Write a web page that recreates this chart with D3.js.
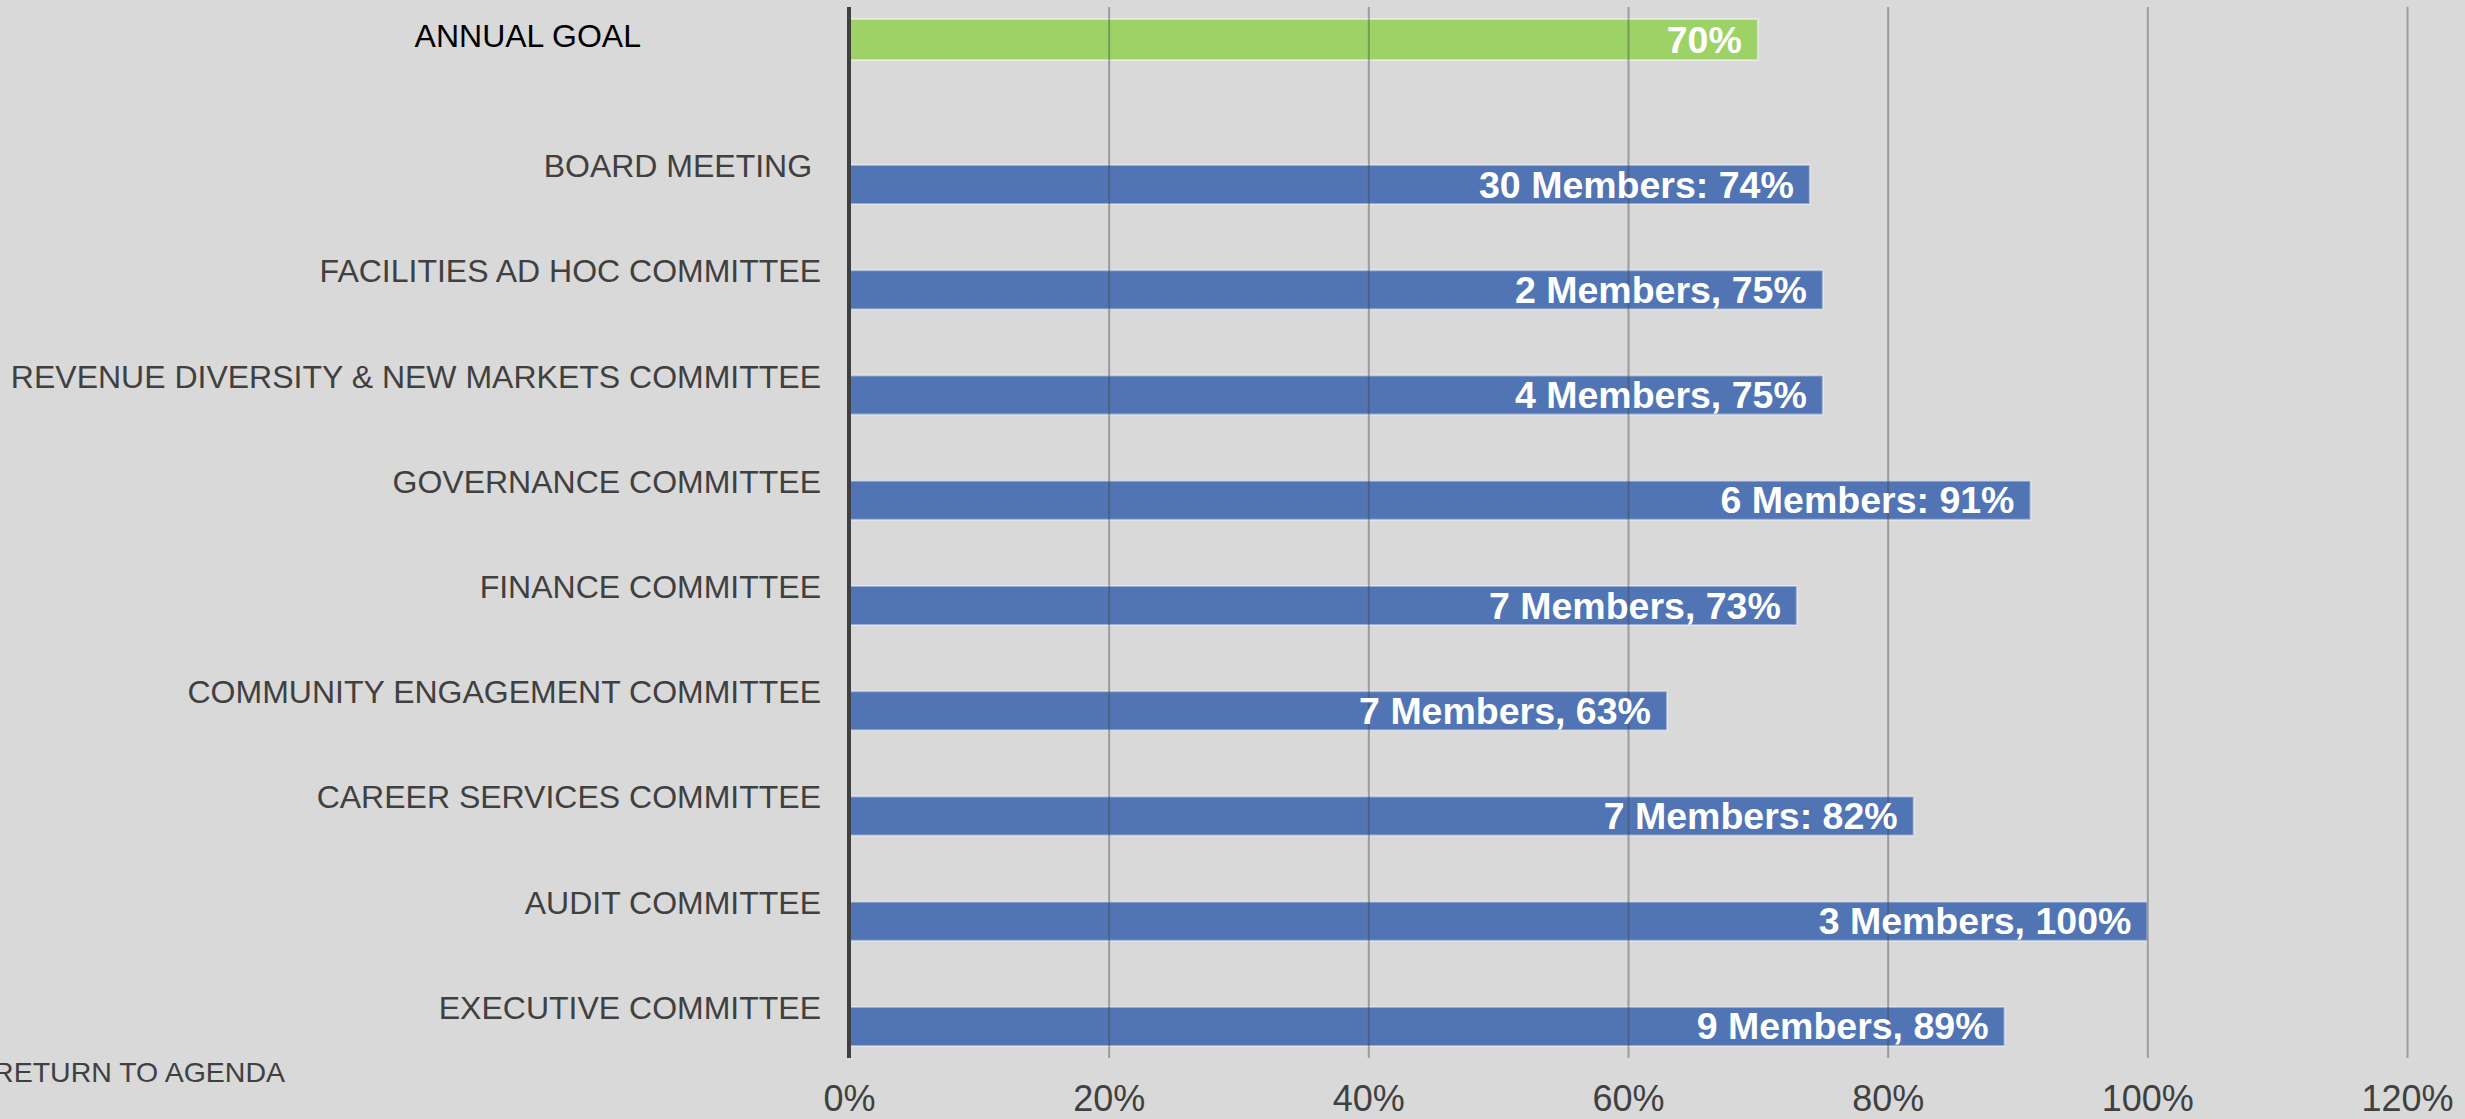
<!DOCTYPE html>
<html lang="en">
<head>
    <meta charset="utf-8">
    <title>Meeting attendance</title>
    <script src="https://d3js.org/d3.v7.min.js"></script>
    <style>
        body{margin:0;background:#d9d9d9;}
        svg{display:block;font-family:"Liberation Sans",Arial,sans-serif;}
    </style>
</head>

<body>
<svg width="2465" height="1119"></svg>
<script>
    // data
    var goalCategory = ["ANNUAL GOAL"];
    var goalValue = [0.70];
    var goalLabel = ["70%"];

    var categories = ["BOARD MEETING ", "FACILITIES AD HOC COMMITTEE", "REVENUE DIVERSITY & NEW MARKETS COMMITTEE",
        "GOVERNANCE COMMITTEE", "FINANCE COMMITTEE", "COMMUNITY ENGAGEMENT COMMITTEE",
        "CAREER SERVICES COMMITTEE", "AUDIT COMMITTEE", "EXECUTIVE COMMITTEE"];
    var values = [0.74, 0.75, 0.75, 0.91, 0.73, 0.63, 0.82, 1.00, 0.89];
    var barLabels = ["30 Members: 74%", "2 Members, 75%", "4 Members, 75%", "6 Members: 91%",
        "7 Members, 73%", "7 Members, 63%", "7 Members: 82%", "3 Members, 100%", "9 Members, 89%"];
    var ticks = [0, 0.2, 0.4, 0.6, 0.8, 1.0, 1.2];

    var svg = d3.select("svg");
    var width = +svg.attr("width");
    var height = +svg.attr("height");

    var plotTop = 7, plotBottom = 1058;

    svg.append("rect")
        .attr("width", width)
        .attr("height", height)
        .attr("fill", "#d9d9d9");

    var x = d3.scaleLinear()
        .domain([0, 1.2])
        .range([849, 2407]);

    // annual goal sits in its own little band at the top
    var yGoal = d3.scaleBand()
        .domain(goalCategory)
        .range([19, 60]);

    // committees: label at band centre, bar in the lower half (2-series cluster)
    var y = d3.scaleBand()
        .domain(categories)
        .range([112.4, 1059.6]);
    var barH = 39;

    // bars
    svg.append("g").selectAll("rect")
        .data(goalValue)
        .enter()
        .append("rect")
        .attr("x", x(0))
        .attr("y", function(d,i){ return yGoal(goalCategory[i]); })
        .attr("width", function(d){ return x(d) - x(0); })
        .attr("height", yGoal.bandwidth())
        .attr("fill", "#9dd266")
        .attr("stroke", "rgba(255,255,255,0.45)")
        .attr("stroke-width", 2);

    svg.append("g").selectAll("rect")
        .data(values)
        .enter()
        .append("rect")
        .attr("x", x(0))
        .attr("y", function(d,i){ return y(categories[i]) + y.bandwidth()/2; })
        .attr("width", function(d){ return x(d) - x(0); })
        .attr("height", barH)
        .attr("fill", "#5175b4")
        .attr("stroke", "rgba(255,255,255,0.4)")
        .attr("stroke-width", 2);

    // x axis with gridlines drawn over the bars
    var xAxis = d3.axisBottom(x)
        .tickValues(ticks)
        .tickSize(-(plotBottom - plotTop))
        .tickFormat(d3.format(".0%"));

    var ax = svg.append("g")
        .attr("transform", "translate(0," + plotBottom + ")")
        .call(xAxis);
    ax.select(".domain").remove();
    ax.selectAll(".tick line")
        .attr("stroke", "rgba(64,64,64,0.4)")
        .attr("stroke-width", 2);
    ax.selectAll(".tick text")
        .attr("y", 53)
        .attr("dy", 0)
        .attr("fill", "#404040")
        .style("font-size", "36px")
        .style("font-family", "'Liberation Sans',Arial,sans-serif");

    // vertical axis line at 0
    svg.append("line")
        .attr("x1", x(0)).attr("x2", x(0))
        .attr("y1", plotTop).attr("y2", plotBottom)
        .attr("stroke", "#404040")
        .attr("stroke-width", 4);

    // category labels
    svg.append("g").selectAll("text")
        .data(categories)
        .enter()
        .append("text")
        .attr("x", 821)
        .attr("y", function(d){ return y(d) + y.bandwidth()/2 + 12; })
        .attr("text-anchor", "end")
        .style("white-space", "pre")
        .attr("fill", "#404040")
        .style("font-size", "32px")
        .text(function(d){ return d; });

    svg.append("text")
        .attr("x", 641)
        .attr("y", yGoal(goalCategory[0]) + yGoal.bandwidth()/2 + 7)
        .attr("text-anchor", "end")
        .attr("fill", "#000")
        .style("font-size", "32px")
        .text(goalCategory[0]);

    // value labels inside the bars
    svg.append("g").selectAll("text")
        .data(values)
        .enter()
        .append("text")
        .attr("x", function(d){ return x(d) - 16; })
        .attr("y", function(d,i){ return y(categories[i]) + y.bandwidth()/2 + barH/2 + 13; })
        .attr("text-anchor", "end")
        .attr("fill", "#fff")
        .style("font-size", "37.5px")
        .style("font-weight", "bold")
        .text(function(d,i){ return barLabels[i]; });

    svg.append("g").selectAll("text")
        .data(goalValue)
        .enter()
        .append("text")
        .attr("x", function(d){ return x(d) - 16; })
        .attr("y", function(d,i){ return yGoal(goalCategory[i]) + yGoal.bandwidth()/2 + 13; })
        .attr("text-anchor", "end")
        .attr("fill", "#fff")
        .style("font-size", "37.5px")
        .style("font-weight", "bold")
        .text(function(d,i){ return goalLabel[i]; });

    svg.append("text")
        .attr("x", 285)
        .attr("y", 1082)
        .attr("text-anchor", "end")
        .attr("fill", "#404040")
        .style("font-size", "28.5px")
        .text("RETURN TO AGENDA");
</script>
</body>
</html>
